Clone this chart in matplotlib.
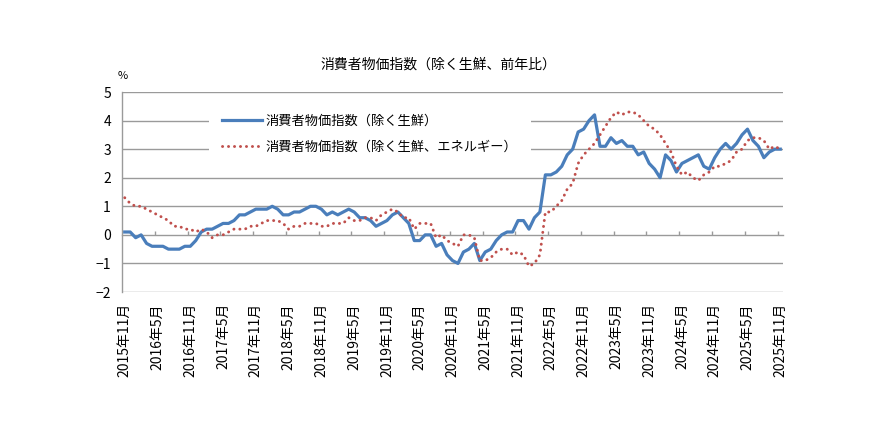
import numpy as np
import matplotlib
matplotlib.use("Agg")
import matplotlib.pyplot as plt

plt.rcParams['font.family'] = ['Noto Sans CJK JP', 'DejaVu Sans']

# ---- data -------------------------------------------------------------
years_months = [(2015, 11)]
for k in range(1, 121):
    m0 = 11 + k
    years_months.append((2015 + (m0 - 1) // 12, (m0 - 1) % 12 + 1))
categories = [f"{y}年{m}月" for y, m in years_months]

core_cpi = [
    0.1, 0.1, -0.1, 0.0, -0.3, -0.4, -0.4, -0.4, -0.5, -0.5, -0.5, -0.4,
    -0.4, -0.2, 0.1, 0.2, 0.2, 0.3, 0.4, 0.4, 0.5, 0.7, 0.7, 0.8,
    0.9, 0.9, 0.9, 1.0, 0.9, 0.7, 0.7, 0.8, 0.8, 0.9, 1.0, 1.0,
    0.9, 0.7, 0.8, 0.7, 0.8, 0.9, 0.8, 0.6, 0.6, 0.5, 0.3, 0.4,
    0.5, 0.7, 0.8, 0.6, 0.4, -0.2, -0.2, 0.0, 0.0, -0.4, -0.3, -0.7,
    -0.9, -1.0, -0.6, -0.5, -0.3, -0.9, -0.6, -0.5, -0.2, 0.0, 0.1, 0.1,
    0.5, 0.5, 0.2, 0.6, 0.8, 2.1, 2.1, 2.2, 2.4, 2.8, 3.0, 3.6,
    3.7, 4.0, 4.2, 3.1, 3.1, 3.4, 3.2, 3.3, 3.1, 3.1, 2.8, 2.9,
    2.5, 2.3, 2.0, 2.8, 2.6, 2.2, 2.5, 2.6, 2.7, 2.8, 2.4, 2.3,
    2.7, 3.0, 3.2, 3.0, 3.2, 3.5, 3.7, 3.3, 3.1, 2.7, 2.9, 3.0,
    3.0,
]

core_core_cpi = [
    1.3, 1.1, 1.0, 1.0, 0.9, 0.8, 0.7, 0.6, 0.5, 0.3, 0.3, 0.2,
    0.2, 0.1, 0.2, 0.1, -0.1, 0.0, 0.0, 0.1, 0.2, 0.2, 0.2, 0.3,
    0.3, 0.4, 0.5, 0.5, 0.5, 0.4, 0.2, 0.3, 0.3, 0.4, 0.4, 0.4,
    0.3, 0.3, 0.4, 0.4, 0.4, 0.6, 0.5, 0.5, 0.6, 0.6, 0.5, 0.7,
    0.8, 0.9, 0.8, 0.6, 0.6, 0.2, 0.4, 0.4, 0.4, -0.1, 0.0, -0.2,
    -0.3, -0.4, 0.0, 0.0, -0.1, -0.9, -0.9, -0.8, -0.6, -0.5, -0.5, -0.7,
    -0.6, -0.7, -1.1, -1.0, -0.7, 0.8, 0.8, 1.0, 1.2, 1.6, 1.8, 2.5,
    2.8, 3.0, 3.2, 3.5, 3.8, 4.1, 4.3, 4.2, 4.3, 4.3, 4.2, 4.0,
    3.8, 3.7, 3.5, 3.2, 2.9, 2.4, 2.1, 2.2, 2.0, 1.9, 2.1, 2.2,
    2.4, 2.4, 2.5, 2.6, 2.9, 3.0, 3.3, 3.4, 3.4, 3.3, 3.0, 3.1,
    3.0,
]

series_labels = ["消費者物価指数（除く生鮮）", "消費者物価指数（除く生鮮、エネルギー）"]
title = "消費者物価指数（除く生鮮、前年比）"
y_ticks = [-2, -1, 0, 1, 2, 3, 4, 5]

# ---- figure -----------------------------------------------------------
W, H = 890, 434
fig = plt.figure(figsize=(W / 100, H / 100), dpi=100)
L, R, T, B = 122, 783, 92, 292
ax = fig.add_axes([L / W, 1 - B / H, (R - L) / W, (B - T) / H])

x = np.arange(len(categories))
grid_c = '#9a9a9a'

ax.plot(x, core_cpi, color='#4A7EBB', lw=2.3, solid_joinstyle='round',
        label=series_labels[0], zorder=3)
ax.plot(x, core_core_cpi, color='#C0504D', lw=2.1,
        linestyle=(0, (0.05, 2.0)), dash_capstyle='round',
        label=series_labels[1], zorder=3)

ax.set_xlim(-0.5, len(categories) - 0.5)
ax.set_ylim(-2, 5)
ax.set_yticks(y_ticks)
ax.set_yticklabels([str(v).replace('-', '\u2212') for v in y_ticks], fontsize=10)
ax.tick_params(axis='y', length=0, pad=8)
for v in y_ticks:
    if v != 0:
        ax.axhline(v, color=grid_c, lw=1.0, zorder=1)

for s in ['top', 'right']:
    ax.spines[s].set_visible(False)
ax.spines['left'].set_color(grid_c)
ax.spines['left'].set_linewidth(1.0)
ax.spines['bottom'].set_position(('data', 0))
ax.spines['bottom'].set_color(grid_c)
ax.spines['bottom'].set_linewidth(1.0)
ax.set_xticks(np.arange(5.5, len(categories), 6))
ax.tick_params(axis='x', direction='in', length=3, width=1.0, color=grid_c,
               labelbottom=False)

sec = ax.secondary_xaxis('bottom')
sec.set_xticks(x[::6])
sec.set_xticklabels(categories[::6], rotation=90, fontsize=10)
sec.tick_params(length=0, pad=8)
sec.spines['bottom'].set_visible(False)

leg = ax.legend(loc='center', bbox_to_anchor=(370 / W, 1 - 134 / H),
                bbox_transform=fig.transFigure, fontsize=9.5,
                frameon=True, facecolor='white', edgecolor='none',
                framealpha=1, fancybox=False, handlelength=3.0,
                handletextpad=0.3, labelspacing=0.95, borderpad=1.0)
leg.set_zorder(5)

fig.text(438 / W, 1 - 65 / H, title, ha='center', va='center', fontsize=10)
fig.text(123 / W, 1 - 76 / H, '%', ha='center', va='center', fontsize=8)

fig.savefig('out.png', dpi=100, facecolor='white')
